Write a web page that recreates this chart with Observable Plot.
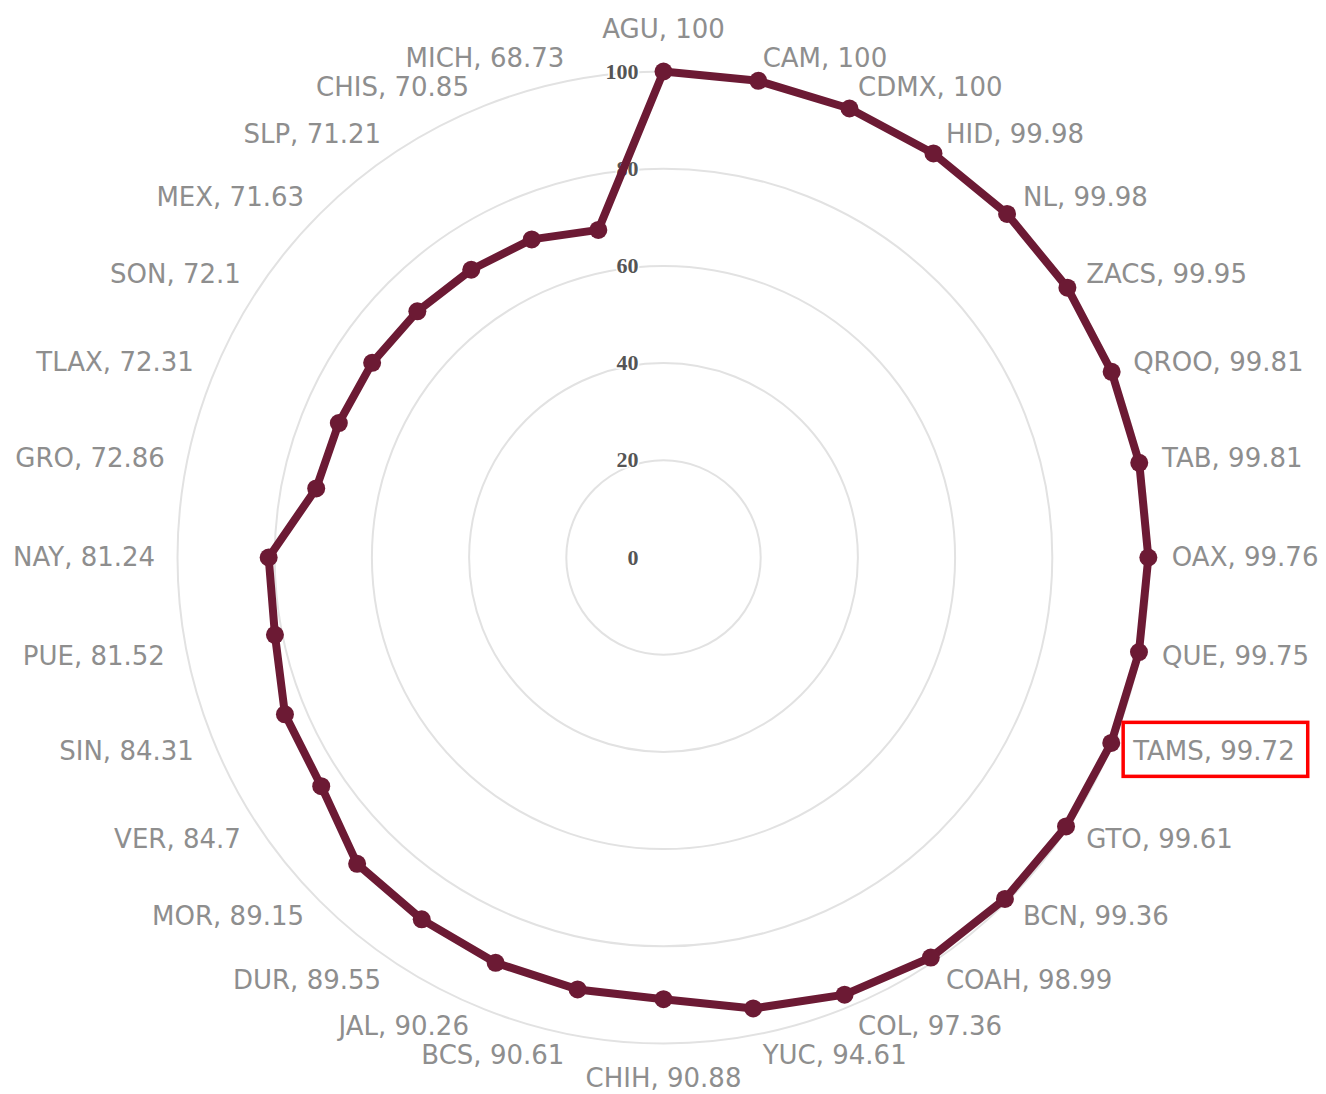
<!DOCTYPE html>
<html>
<head>
<meta charset="utf-8">
<script src="https://cdn.jsdelivr.net/npm/d3@7"></script>
<script src="https://cdn.jsdelivr.net/npm/@observablehq/plot@0.6"></script>
<style>
  html, body { margin: 0; padding: 0; background: #fff; }
  #chart { width: 1326px; height: 1094px; position: relative; }
</style>
</head>
<body>
<div id="chart"></div>
<script>
const states = ["AGU","CAM","CDMX","HID","NL","ZACS","QROO","TAB","OAX","QUE","TAMS","GTO","BCN","COAH","COL","YUC","CHIH","BCS","JAL","DUR","MOR","VER","SIN","PUE","NAY","GRO","TLAX","SON","MEX","SLP","CHIS","MICH"];
const values = [100,100,100,99.98,99.98,99.95,99.81,99.81,99.76,99.75,99.72,99.61,99.36,98.99,97.36,94.61,90.88,90.61,90.26,89.55,89.15,84.7,84.31,81.52,81.24,72.86,72.31,72.1,71.63,71.21,70.85,68.73];
const gridTicks = [20, 40, 60, 80, 100];
const tickLabels = [0, 20, 40, 60, 80, 100];
const highlight = "TAMS";

const n = states.length;
const data = states.map((s, i) => ({state: s, value: values[i], angle: i * 2 * Math.PI / n}));
const labelR = 104.6;
const isPole = d => Math.abs(Math.sin(d.angle)) < 0.01;
const lr = d => isPole(d) ? (Math.cos(d.angle) > 0 ? 108.6 : 107.3) : labelR;

const cx = 663, cy = 557, R = 486;
const lineColor = "#6c1a34";

const labelOpts = {
  x: d => lr(d) * Math.sin(d.angle),
  y: d => lr(d) * Math.cos(d.angle),
  text: d => `${d.state}, ${d.value}`,
  lineAnchor: "middle",
  fill: "#8e8e8e",
  fontSize: 26,
  fontFamily: "DejaVu Sans"
};

const plot = Plot.plot({
  width: 1326,
  height: 1094,
  margin: 0,
  x: {domain: [-100, 100], range: [cx - R, cx + R], axis: null},
  y: {domain: [-100, 100], range: [cy + R, cy - R], axis: null},
  r: {type: "linear", domain: [0, 100], range: [0, R]},
  marks: [
    Plot.dot(gridTicks, {x: () => 0, y: () => 0, r: d => d, fill: "none", stroke: "#e2e2e2", strokeWidth: 2}),
    Plot.text(tickLabels, {x: () => 0, y: d => d, text: d => String(d), textAnchor: "end", dx: -25, fill: "#555", fontWeight: "bold", fontSize: 22, fontFamily: "Liberation Serif", stroke: "white", strokeWidth: 3, paintOrder: "stroke"}),
    Plot.line(data, {x: d => d.value * Math.sin(d.angle), y: d => d.value * Math.cos(d.angle), curve: "linear-closed", stroke: lineColor, strokeWidth: 8, strokeLinejoin: "round"}),
    Plot.dot(data, {x: d => d.value * Math.sin(d.angle), y: d => d.value * Math.cos(d.angle), r: 9, fill: lineColor, stroke: "none"}),
    Plot.text(data.filter(d => isPole(d)), {...labelOpts, textAnchor: "middle"}),
    Plot.text(data.filter(d => !isPole(d) && Math.sin(d.angle) > 0), {...labelOpts, textAnchor: "start"}),
    Plot.text(data.filter(d => !isPole(d) && Math.sin(d.angle) < 0), {...labelOpts, textAnchor: "end"})
  ]
});
document.getElementById("chart").appendChild(plot);

// highlight box around chosen label
const txt = Array.from(plot.querySelectorAll("text")).find(t => t.textContent.startsWith(highlight + ","));
if (txt) {
  const sb = plot.getBoundingClientRect();
  const bb = txt.getBoundingClientRect();
  const ns = "http://www.w3.org/2000/svg";
  const rect = document.createElementNS(ns, "rect");
  rect.setAttribute("x", bb.left - sb.left - 9);
  rect.setAttribute("y", bb.top - sb.top - 14);
  rect.setAttribute("width", bb.width + 22);
  rect.setAttribute("height", bb.height + 24);
  rect.setAttribute("fill", "none");
  rect.setAttribute("stroke", "#ff0000");
  rect.setAttribute("stroke-width", 3.5);
  plot.appendChild(rect);
}
</script>
</body>
</html>
